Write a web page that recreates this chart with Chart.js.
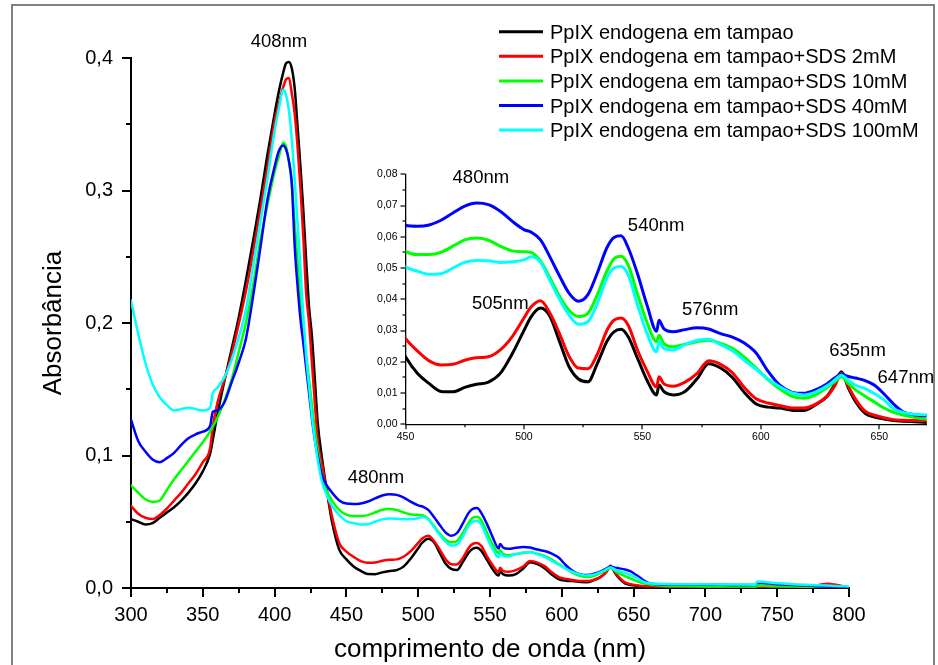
<!DOCTYPE html>
<html>
<head>
<meta charset="utf-8">
<script src="https://cdn.jsdelivr.net/npm/chart.js@4.4.1/dist/chart.umd.min.js"></script>
<style>
  html, body { margin: 0; padding: 0; background: #fff; }
  #wrap { position: relative; width: 938px; height: 665px; overflow: hidden; }
  #mainChart { position: absolute; left: 0; top: 0; }
  #insetChart { position: absolute; left: 340px; top: 160px; }
  #frame { position: absolute; left: 11px; top: 4px; width: 924px; height: 700px;
           border: 2px solid #808080; box-sizing: border-box; pointer-events: none; }
</style>
</head>
<body>
<div id="wrap">
  <canvas id="mainChart" width="938" height="665"></canvas>
  <canvas id="insetChart" width="598" height="300"></canvas>
  <div id="frame"></div>
</div>
<script>
// wavelength grid (nm) shared by all spectra
const wavelengths = [
  300, 305, 310, 315, 320, 325, 330, 335, 340, 345, 350, 355, 357, 360, 365, 370, 375,
  380, 385, 390, 395, 400, 403, 406, 408, 410, 412, 414, 416, 418, 420, 422, 424, 426, 428, 430, 433, 436, 440, 445,
  450, 455, 460, 465, 470, 475, 480, 485, 490, 495, 500,
  503, 507, 511, 515, 519, 523, 527, 531, 535, 538, 541, 544, 548, 552, 556, 557, 559, 563, 568, 573,
  578, 583, 588, 593, 598, 603, 608, 613, 618, 623, 628, 631, 634, 637, 640, 644, 648, 652, 656, 660, 665, 670,
  680, 700, 720, 735, 736, 750, 770, 785, 790, 800
];

// absorbance, PpIX in buffer
const absBuffer = [
  0.052, 0.050, 0.048, 0.049, 0.053, 0.057, 0.061, 0.066, 0.072, 0.079, 0.088, 0.101, 0.112, 0.130, 0.156, 0.180, 0.204,
  0.232, 0.262, 0.293, 0.327, 0.358, 0.375, 0.389, 0.396, 0.397, 0.392, 0.377, 0.348, 0.318, 0.285, 0.247, 0.212, 0.190, 0.158, 0.125, 0.098, 0.076, 0.050, 0.029,
  0.0216, 0.0163, 0.0130, 0.0105, 0.0104, 0.0118, 0.0128, 0.0135, 0.0163, 0.0225, 0.0300,
  0.0344, 0.0372, 0.0345, 0.0265, 0.0185, 0.0145, 0.0136, 0.0195, 0.0265, 0.0296, 0.0304, 0.0280, 0.0210, 0.0140, 0.0094, 0.0126, 0.0105, 0.0094, 0.0105, 0.0145,
  0.0194, 0.0180, 0.0150, 0.0102, 0.0065, 0.0055, 0.0052, 0.0045, 0.0044, 0.0062, 0.0090, 0.0125, 0.0168, 0.0115, 0.0072, 0.0035, 0.0023, 0.0017, 0.0012, 0.0010, 0.0008, 0.0006,
  0.0006, 0.0005, 0.0004, 0.0004, 0.0012, 0.0008, 0.0005, 0.0004, 0.0004, 0.0003
];

// absorbance, buffer + SDS 2mM
const absSds2 = [
  0.062, 0.056, 0.053, 0.052, 0.055, 0.060, 0.066, 0.072, 0.079, 0.086, 0.095, 0.105, 0.122, 0.139, 0.157, 0.176, 0.199,
  0.224, 0.253, 0.285, 0.317, 0.352, 0.366, 0.378, 0.384, 0.385, 0.373, 0.358, 0.333, 0.302, 0.265, 0.222, 0.200, 0.170, 0.140, 0.112, 0.093, 0.076, 0.054, 0.034,
  0.0275, 0.0235, 0.0203, 0.0190, 0.0192, 0.0205, 0.0213, 0.0216, 0.0238, 0.0280, 0.0340,
  0.0375, 0.0395, 0.0355, 0.0290, 0.0218, 0.0180, 0.0178, 0.0225, 0.0300, 0.0333, 0.0340, 0.0317, 0.0236, 0.0170, 0.0120, 0.0152, 0.0130, 0.0122, 0.0135, 0.0162,
  0.0203, 0.0192, 0.0165, 0.0118, 0.0082, 0.0068, 0.0060, 0.0052, 0.0052, 0.0064, 0.0090, 0.0120, 0.0163, 0.0120, 0.0080, 0.0042, 0.0029, 0.0021, 0.0015, 0.0013, 0.0012, 0.0011,
  0.0009, 0.0008, 0.0007, 0.0006, 0.0012, 0.0008, 0.0008, 0.0032, 0.0026, 0.0004
];

// absorbance, buffer + SDS 10mM
const absSds10 = [
  0.0775, 0.072, 0.067, 0.065, 0.066, 0.074, 0.082, 0.089, 0.096, 0.103, 0.110, 0.118, 0.122, 0.128, 0.141, 0.157, 0.178,
  0.200, 0.228, 0.262, 0.289, 0.314, 0.326, 0.336, 0.333, 0.322, 0.305, 0.275, 0.247, 0.215, 0.195, 0.175, 0.157, 0.138, 0.119, 0.104, 0.085, 0.074, 0.066, 0.059,
  0.0554, 0.0543, 0.0543, 0.0550, 0.0570, 0.0590, 0.0596, 0.0589, 0.0570, 0.0555, 0.0552,
  0.0550, 0.0522, 0.0468, 0.0410, 0.0365, 0.0345, 0.0355, 0.0415, 0.0490, 0.0530, 0.0538, 0.0509, 0.0415, 0.0325, 0.0264, 0.0285, 0.0259, 0.0248, 0.0256, 0.0264,
  0.0269, 0.0259, 0.0243, 0.0215, 0.0180, 0.0143, 0.0113, 0.0090, 0.0083, 0.0094, 0.0118, 0.0135, 0.0152, 0.0130, 0.0110, 0.0090, 0.0071, 0.0052, 0.0038, 0.0030, 0.0022, 0.0017,
  0.0015, 0.0012, 0.0011, 0.0010, 0.0018, 0.0013, 0.0009, 0.0007, 0.0006, 0.0005
];

// absorbance, buffer + SDS 40mM
const absSds40 = [
  0.127, 0.111, 0.103, 0.097, 0.095, 0.098, 0.102, 0.108, 0.113, 0.116, 0.118, 0.122, 0.133, 0.134, 0.140, 0.155, 0.170,
  0.188, 0.220, 0.256, 0.293, 0.318, 0.330, 0.334, 0.331, 0.322, 0.305, 0.258, 0.228, 0.203, 0.185, 0.166, 0.147, 0.128, 0.112, 0.100, 0.085, 0.078, 0.072, 0.066,
  0.0637, 0.0634, 0.0638, 0.0653, 0.0676, 0.0698, 0.0708, 0.0703, 0.0682, 0.0650, 0.0623,
  0.0615, 0.0590, 0.0535, 0.0475, 0.0420, 0.0394, 0.0415, 0.0485, 0.0565, 0.0598, 0.0603, 0.0565, 0.0480, 0.0380, 0.0298, 0.0333, 0.0306, 0.0296, 0.0303, 0.0309,
  0.0305, 0.0290, 0.0279, 0.0260, 0.0228, 0.0170, 0.0125, 0.0103, 0.0099, 0.0110, 0.0130, 0.0147, 0.0160, 0.0153, 0.0148, 0.0140, 0.0125, 0.0097, 0.0065, 0.0040, 0.0030, 0.0027,
  0.0026, 0.0025, 0.0023, 0.0022, 0.0040, 0.0028, 0.0018, 0.0012, 0.0008, 0.0005
];

// absorbance, buffer + SDS 100mM
const absSds100 = [
  0.217, 0.192, 0.170, 0.154, 0.144, 0.138, 0.134, 0.135, 0.136, 0.135, 0.134, 0.136, 0.147, 0.151, 0.159, 0.172, 0.189,
  0.210, 0.243, 0.276, 0.309, 0.345, 0.362, 0.376, 0.372, 0.360, 0.338, 0.308, 0.275, 0.242, 0.205, 0.175, 0.152, 0.130, 0.112, 0.097, 0.080, 0.071, 0.062, 0.055,
  0.0504, 0.0490, 0.0480, 0.0482, 0.0500, 0.0518, 0.0524, 0.0523, 0.0518, 0.0520, 0.0526,
  0.0536, 0.0518, 0.0460, 0.0400, 0.0350, 0.0320, 0.0328, 0.0387, 0.0468, 0.0500, 0.0505, 0.0478, 0.0380, 0.0290, 0.0232, 0.0264, 0.0243, 0.0238, 0.0255, 0.0268,
  0.0272, 0.0255, 0.0235, 0.0205, 0.0176, 0.0145, 0.0120, 0.0101, 0.0094, 0.0103, 0.0123, 0.0140, 0.0157, 0.0140, 0.0125, 0.0114, 0.0098, 0.0078, 0.0050, 0.0038, 0.0032, 0.0030,
  0.0029, 0.0028, 0.0026, 0.0025, 0.0050, 0.0036, 0.0024, 0.0018, 0.0015, 0.0012
];

const seriesLabels = [
  'PpIX endogena em tampao',
  'PpIX endogena em tampao+SDS 2mM',
  'PpIX endogena em tampao+SDS 10mM',
  'PpIX endogena em tampao+SDS 40mM',
  'PpIX endogena em tampao+SDS 100mM'
];
const seriesValues = [absBuffer, absSds2, absSds10, absSds40, absSds100];
const seriesColors = ['#000000', '#ff0000', '#00ff00', '#0000ff', '#00ffff'];

// peak annotations (wavelength, absorbance at text centre)
const mainPeakLabels = [
  { text: '408nm', nm: 403, abs: 0.413 },
  { text: '480nm', nm: 470.6, abs: 0.0844 }
];
const insetPeakLabels = [
  { text: '480nm', nm: 481.8, abs: 0.0793 },
  { text: '540nm', nm: 555.8, abs: 0.0640 },
  { text: '505nm', nm: 490, abs: 0.0389 },
  { text: '576nm', nm: 578.6, abs: 0.0370 },
  { text: '635nm', nm: 640.8, abs: 0.0241 },
  { text: '647nm', nm: 661.2, abs: 0.0154 }
];

const FONT = '"Liberation Sans", Arial, sans-serif';

function isMultiple(v, step) {
  const r = v / step;
  return Math.abs(r - Math.round(r)) < 1e-6;
}

function buildDatasets(lineWidth) {
  return seriesValues.map((vals, i) => ({
    label: seriesLabels[i],
    data: wavelengths.map((w, j) => ({ x: w, y: vals[j] })),
    borderColor: seriesColors[i],
    borderWidth: lineWidth,
    pointRadius: 0,
    cubicInterpolationMode: 'monotone',
    borderJoinStyle: 'round',
    borderCapStyle: 'round',
    order: seriesValues.length - i
  }));
}

// outward major/minor tick marks drawn from the scales' own ticks
const tickMarks = {
  id: 'tickMarks',
  afterDraw(chart, args, opts) {
    const ctx = chart.ctx;
    const { left, bottom } = chart.chartArea;
    const xs = chart.scales.x, ys = chart.scales.y;
    ctx.save();
    ctx.strokeStyle = '#000';
    ctx.lineWidth = opts.width;
    xs.ticks.forEach(t => {
      const px = Math.round(xs.getPixelForValue(t.value));
      const len = isMultiple(t.value, opts.xMajor) ? opts.majorLen : opts.minorLen;
      ctx.beginPath(); ctx.moveTo(px, bottom); ctx.lineTo(px, bottom + len); ctx.stroke();
    });
    ys.ticks.forEach(t => {
      const py = Math.round(ys.getPixelForValue(t.value));
      const len = isMultiple(t.value, opts.yMajor) ? opts.majorLen : opts.minorLen;
      ctx.beginPath(); ctx.moveTo(left, py); ctx.lineTo(left - len, py); ctx.stroke();
    });
    ctx.restore();
  }
};

// text annotations placed at data coordinates
const peakText = {
  id: 'peakText',
  afterDraw(chart, args, opts) {
    const ctx = chart.ctx;
    ctx.save();
    ctx.font = opts.size + 'px ' + FONT;
    ctx.fillStyle = '#000';
    ctx.textAlign = 'center';
    ctx.textBaseline = 'alphabetic';
    opts.items.forEach(p => {
      const x = chart.scales.x.getPixelForValue(p.nm);
      const y = chart.scales.y.getPixelForValue(p.abs);
      ctx.fillText(p.text, x, y + opts.size * 0.358);
    });
    ctx.restore();
  }
};

// legend in the upper right
const lineLegend = {
  id: 'lineLegend',
  afterDraw(chart) {
    const ctx = chart.ctx;
    const size = 20;
    ctx.save();
    ctx.font = size + 'px ' + FONT;
    ctx.textAlign = 'left';
    ctx.textBaseline = 'alphabetic';
    seriesLabels.forEach((label, i) => {
      const y = 31.7 + i * 24.6;
      ctx.strokeStyle = seriesColors[i];
      ctx.lineWidth = 3;
      ctx.beginPath(); ctx.moveTo(499, y); ctx.lineTo(543, y); ctx.stroke();
      ctx.fillStyle = '#000';
      ctx.fillText(label, 550, y + size * 0.358);
    });
    ctx.restore();
  }
};

// main spectrum 300-800 nm
new Chart(document.getElementById('mainChart'), {
  type: 'line',
  data: { datasets: buildDatasets(2.5) },
  plugins: [tickMarks, peakText, lineLegend],
  options: {
    responsive: false,
    animation: false,
    devicePixelRatio: 1,
    layout: { padding: { left: 0, right: 89, top: 58, bottom: 0 } },
    plugins: {
      legend: { display: false },
      tooltip: { enabled: false },
      tickMarks: { width: 2, majorLen: 9, minorLen: 5, xMajor: 50, yMajor: 0.1 },
      peakText: { size: 18.5, items: mainPeakLabels }
    },
    scales: {
      x: {
        type: 'linear',
        min: 300, max: 800,
        afterFit: s => { s.height = 77; },
        grid: { display: false, drawTicks: false },
        border: { display: true, color: '#000', width: 2 },
        ticks: {
          stepSize: 25, autoSkip: false, maxRotation: 0, padding: 15, color: '#000',
          font: { family: FONT, size: 20 },
          callback: v => isMultiple(v, 50) ? String(v) : ''
        },
        title: {
          display: true, text: 'comprimento de onda (nm)', color: '#000',
          font: { family: FONT, size: 26 }, padding: { top: 0, bottom: 0 }
        }
      },
      y: {
        min: 0, max: 0.4,
        afterFit: s => { s.width = 131; },
        grid: { display: false, drawTicks: false },
        border: { display: true, color: '#000', width: 2 },
        ticks: {
          stepSize: 0.05, autoSkip: false, padding: 18, color: '#000',
          font: { family: FONT, size: 20 },
          callback: v => isMultiple(v, 0.1) ? v.toFixed(1).replace('.', ',') : ''
        },
        title: {
          display: true, text: 'Absorbância', color: '#000',
          font: { family: FONT, size: 26 }, padding: { top: 38, bottom: 0 }
        }
      }
    }
  }
});

// inset 450-670 nm
new Chart(document.getElementById('insetChart'), {
  type: 'line',
  data: { datasets: buildDatasets(3) },
  plugins: [tickMarks, peakText],
  options: {
    responsive: false,
    animation: false,
    devicePixelRatio: 1,
    layout: { padding: { left: 0, right: 11.3, top: 14, bottom: 0 } },
    plugins: {
      legend: { display: false },
      tooltip: { enabled: false },
      tickMarks: { width: 1.2, majorLen: 5, minorLen: 3, xMajor: 50, yMajor: 0.01 },
      peakText: { size: 18.5, items: insetPeakLabels }
    },
    scales: {
      x: {
        type: 'linear',
        min: 450, max: 670,
        afterFit: s => { s.height = 35.7; },
        grid: { display: false, drawTicks: false },
        border: { display: true, color: '#000', width: 1.3 },
        ticks: {
          stepSize: 25, includeBounds: false, autoSkip: false, maxRotation: 0, padding: 7, color: '#000',
          font: { family: FONT, size: 10.5 },
          callback: v => isMultiple(v, 50) ? String(v) : ''
        }
      },
      y: {
        min: 0, max: 0.08,
        afterFit: s => { s.width = 65.5; },
        grid: { display: false, drawTicks: false },
        border: { display: true, color: '#000', width: 1.3 },
        ticks: {
          stepSize: 0.005, autoSkip: false, padding: 8, color: '#000',
          font: { family: FONT, size: 10.5 },
          callback: v => isMultiple(v, 0.01) ? v.toFixed(2).replace('.', ',') : ''
        }
      }
    }
  }
});
</script>
</body>
</html>
